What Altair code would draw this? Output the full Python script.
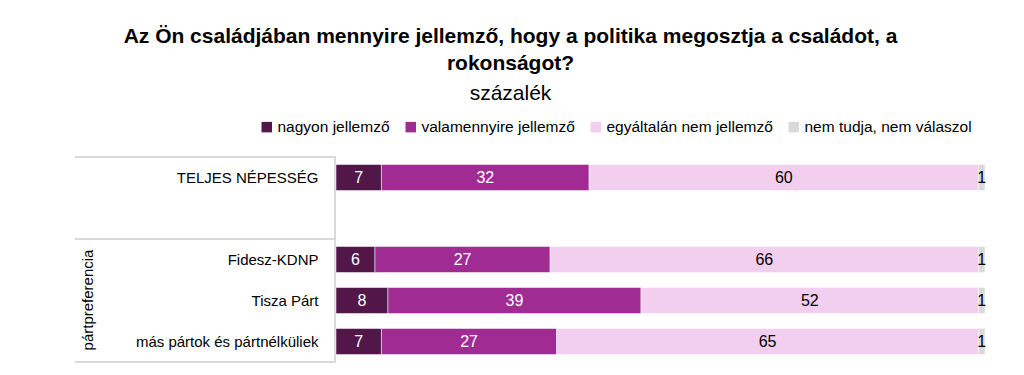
import altair as alt
import pandas as pd

groups = ["TELJES NÉPESSÉG", " ", "Fidesz-KDNP", "Tisza Párt", "más pártok és pártnélküliek"]
categories = ["nagyon jellemző", "valamennyire jellemző", "egyáltalán nem jellemző", "nem tudja, nem válaszol"]
colors = ["#521649", "#A02B93", "#F2CEEF", "#D9D9D9"]

rows = ["TELJES NÉPESSÉG", "Fidesz-KDNP", "Tisza Párt", "más pártok és pártnélküliek"]
nagyon = [7, 6, 8, 7]
valamennyire = [32, 27, 39, 27]
egyaltalan = [60, 66, 52, 65]
nemtudja = [1, 1, 1, 1]

series = [nagyon, valamennyire, egyaltalan, nemtudja]
records = []
for ri, r in enumerate(rows):
    for ci, c in enumerate(categories):
        records.append({"group": r, "cat": c, "idx": ci, "value": series[ci][ri]})
df = pd.DataFrame(records)

SANS = "Liberation Sans, Arial, sans-serif"

W, H = 649, 205

base = alt.Chart(df).transform_stack(
    stack="value", groupby=["group"], as_=["x0", "x1"], sort=[alt.SortField("idx")]
).transform_calculate(
    mid="(datum.x0 + datum.x1) / 2",
    tc="datum.idx < 2 ? 'white' : 'black'",
)

yscale = alt.Scale(domain=groups, paddingInner=0.366, paddingOuter=0.183)
yenc = alt.Y(
    "group:N",
    scale=yscale,
    axis=alt.Axis(title=None, domain=False, ticks=False, labelPadding=18, labelLimit=0,
                  labelFont=SANS, labelFontSize=15, labelColor="#000000"),
)
xscale = alt.Scale(domain=[0, 100], nice=False, zero=True)

bars = base.mark_bar(stroke="white", strokeWidth=0.5).encode(
    x=alt.X("x0:Q", scale=xscale, axis=None),
    x2="x1:Q",
    y=yenc,
    color=alt.Color(
        "cat:N",
        scale=alt.Scale(domain=categories, range=colors),
        legend=alt.Legend(
            title=None, orient="none", legendX=-77, legendY=-38, direction="horizontal",
            symbolType="square", symbolSize=110, symbolStrokeWidth=0,
            labelFont=SANS, labelFontSize=15.5, labelColor="#000000", labelLimit=0,
            columnPadding=13, labelOffset=3,
        ),
    ),
)

labels = base.mark_text(font=SANS, fontSize=16).encode(
    x=alt.X("mid:Q", scale=xscale),
    y=alt.Y("group:N", scale=yscale),
    text=alt.Text("value:Q"),
    color=alt.Color("tc:N", scale=None),
)

decor_df = pd.DataFrame({"x": [-261, -261, -261], "x2": [0, 0, 0], "y": [0, 82, 205]})
hrules = alt.Chart(decor_df).mark_rule(color="#D9D9D9", strokeWidth=2).encode(
    x=alt.X("x:Q", scale=None), x2="x2:Q", y=alt.Y("y:Q", scale=None)
)
vrule = alt.Chart(pd.DataFrame({"a": [0]})).mark_rule(color="#D9D9D9", strokeWidth=2).encode(
    x=alt.value(-1), y=alt.value(0), y2=alt.value(205)
)
grouplabel = alt.Chart(pd.DataFrame({"t": ["pártpreferencia"]})).mark_text(
    font=SANS, fontSize=15, angle=270, align="center", baseline="middle", color="#000000"
).encode(x=alt.value(-248), y=alt.value(143), text="t:N")

chart = alt.layer(hrules, vrule, bars, labels, grouplabel).properties(
    width=W, height=H,
    autosize=alt.AutoSizeParams(type="none"),
    padding={"left": 328, "top": 149, "right": 31, "bottom": 4},
    title=alt.TitleParams(
        text=["Az Ön családjában mennyire jellemző, hogy a politika megosztja a családot, a", "rokonságot?"],
        subtitle="százalék",
        font=SANS, fontSize=21, fontWeight="bold", lineHeight=27, color="#000000",
        subtitleFont=SANS, subtitleFontSize=21, subtitleColor="#000000", subtitlePadding=9,
        anchor="middle", frame="group", dx=-150, offset=15,
    ),
).configure_view(stroke=None)

chart.save("out.html", embed_options={"renderer": "svg", "actions": False})
